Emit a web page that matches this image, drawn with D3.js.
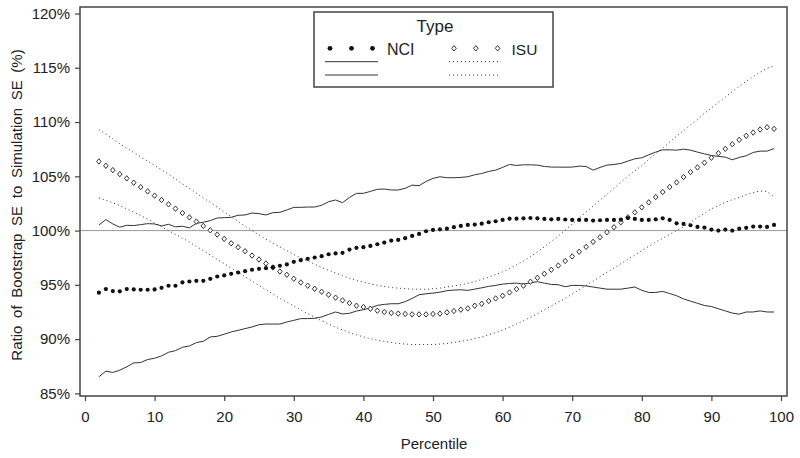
<!DOCTYPE html>
<html><head><meta charset="utf-8">
<script src="https://cdn.jsdelivr.net/npm/d3@7"></script>
<style>
body{margin:0;background:#fff;}
text{font-family:"Liberation Sans",Arial,Helvetica,sans-serif;fill:#222;}
</style></head>
<body><svg id="c" width="800" height="458"></svg>
<script>
// ---------- data ----------
const pct = [2,3,4,5,6,7,8,9,10,11,12,13,14,15,16,17,18,19,20,21,22,23,24,25,26,27,28,29,30,31,32,33,34,35,36,37,38,39,40,41,42,43,44,45,46,47,48,49,50,51,52,53,54,55,56,57,58,59,60,61,62,63,64,65,66,67,68,69,70,71,72,73,74,75,76,77,78,79,80,81,82,83,84,85,86,87,88,89,90,91,92,93,94,95,96,97,98,99];
const nciMean = [94.28,94.61,94.43,94.40,94.61,94.58,94.55,94.55,94.58,94.73,94.92,94.92,95.22,95.31,95.37,95.37,95.56,95.77,95.87,96.02,96.14,96.26,96.39,96.48,96.54,96.63,96.76,96.88,97.12,97.27,97.40,97.52,97.64,97.82,97.90,97.95,98.25,98.41,98.47,98.59,98.74,98.90,99.08,99.14,99.30,99.51,99.69,99.94,100.06,100.12,100.18,100.31,100.43,100.52,100.55,100.64,100.77,100.86,100.98,101.10,101.10,101.13,101.16,101.13,101.07,101.04,101.07,101.02,100.98,100.98,100.98,100.92,100.95,100.98,100.98,101.01,101.16,101.07,100.98,100.98,101.04,101.13,100.98,100.67,100.61,100.49,100.34,100.28,100.09,100.00,100.09,100.00,100.18,100.25,100.37,100.37,100.34,100.52];
const nciUpper = [100.52,101.01,100.61,100.31,100.49,100.46,100.55,100.64,100.61,100.43,100.58,100.34,100.40,100.25,100.67,100.77,100.92,101.16,101.19,101.22,101.41,101.44,101.62,101.56,101.44,101.65,101.68,101.90,102.14,102.14,102.17,102.17,102.33,102.66,102.82,102.57,103.06,103.43,103.43,103.61,103.80,103.83,103.74,103.74,103.89,104.19,104.13,104.53,104.81,104.96,104.87,104.87,104.90,104.96,105.14,105.26,105.45,105.57,105.82,106.09,106.00,106.06,106.06,106.03,105.91,105.85,105.85,105.84,105.85,105.94,105.91,105.57,105.82,106.03,106.09,106.19,106.40,106.61,106.71,106.98,107.23,107.44,107.44,107.41,107.50,107.41,107.23,107.07,106.92,106.83,106.77,106.52,106.74,106.89,107.20,107.32,107.32,107.56];
const nciLower = [86.53,87.05,86.93,87.14,87.45,87.81,87.84,88.12,88.24,88.45,88.79,88.94,89.25,89.37,89.68,89.80,90.20,90.26,90.45,90.66,90.81,90.97,91.12,91.33,91.39,91.39,91.39,91.58,91.73,91.89,91.89,91.92,92.04,92.28,92.50,92.32,92.38,92.59,92.71,92.87,93.11,93.20,93.26,93.26,93.45,93.75,94.09,94.18,94.24,94.33,94.46,94.52,94.55,94.49,94.61,94.73,94.86,94.95,95.07,95.13,95.16,95.07,95.19,95.29,95.16,95.04,95.01,94.83,94.95,94.95,94.90,94.80,94.70,94.60,94.60,94.60,94.70,94.80,94.50,94.30,94.30,94.40,94.20,94.00,93.70,93.50,93.30,93.10,93.00,92.80,92.60,92.40,92.30,92.50,92.50,92.60,92.50,92.50];
const isuMean = [106.37,105.97,105.57,105.20,104.81,104.41,104.01,103.61,103.22,102.82,102.42,102.02,101.62,101.22,100.83,100.43,100.03,99.63,99.24,98.83,98.47,98.10,97.70,97.34,96.97,96.60,96.23,95.93,95.56,95.22,94.92,94.64,94.37,94.09,93.82,93.57,93.32,93.08,92.96,92.80,92.62,92.50,92.41,92.35,92.32,92.28,92.28,92.28,92.32,92.35,92.47,92.59,92.71,92.83,93.08,93.26,93.51,93.75,94.00,94.30,94.61,94.92,95.29,95.65,96.02,96.39,96.78,97.20,97.62,98.05,98.50,98.96,99.39,99.85,100.31,100.77,101.22,101.68,102.14,102.60,103.09,103.55,104.01,104.44,104.93,105.39,105.82,106.25,106.71,107.13,107.53,107.96,108.36,108.73,109.03,109.31,109.52,109.37];
const isuUpper = [109.3,108.9,108.45,108.0,107.6,107.2,106.8,106.4,106.0,105.6,105.2,104.75,104.3,103.9,103.45,103.0,102.6,102.15,101.7,101.3,100.85,100.4,100.0,99.6,99.2,98.85,98.5,98.15,97.8,97.5,97.2,96.9,96.6,96.35,96.1,95.85,95.6,95.4,95.25,95.1,94.95,94.85,94.75,94.7,94.65,94.6,94.6,94.6,94.65,94.7,94.8,94.9,95.0,95.15,95.3,95.5,95.7,95.95,96.2,96.5,96.85,97.2,97.6,98.05,98.5,99.0,99.5,100.05,100.6,101.15,101.7,102.25,102.8,103.35,103.9,104.45,105.0,105.5,106.0,106.55,107.1,107.6,108.15,108.7,109.2,109.75,110.25,110.8,111.3,111.8,112.3,112.8,113.3,113.75,114.2,114.6,114.95,115.15];
const isuLower = [103.0,102.8,102.55,102.3,102.0,101.7,101.4,101.05,100.7,100.35,100.0,99.65,99.3,98.95,98.55,98.15,97.75,97.35,96.95,96.55,96.15,95.75,95.35,94.95,94.55,94.15,93.75,93.4,93.05,92.7,92.35,92.0,91.7,91.4,91.1,90.85,90.6,90.4,90.2,90.05,89.9,89.8,89.7,89.6,89.55,89.5,89.5,89.5,89.5,89.55,89.6,89.7,89.8,89.9,90.05,90.2,90.4,90.6,90.85,91.1,91.4,91.7,92.0,92.35,92.7,93.05,93.4,93.75,94.15,94.55,94.95,95.35,95.75,96.15,96.55,96.95,97.35,97.75,98.15,98.55,98.95,99.3,99.65,100.0,100.35,100.75,101.2,101.6,102.0,102.3,102.6,102.85,103.05,103.3,103.5,103.65,103.6,103.1];
const xTicks = [0,10,20,30,40,50,60,70,80,90,100];
const yTicks = [85,90,95,100,105,110,115,120];
const legendTitle = "Type";
const legendNames = ["NCI","ISU"];
const xTitle = "Percentile";
const yTitle = "Ratio of Bootstrap SE to Simulation SE (%)";

// ---------- layout ----------
const svg = d3.select("#c");
const F = {l:80, t:7, r:787, b:396};
const x = d3.scaleLinear().domain([0,100]).range([85,781]);
const y = d3.scaleLinear().domain([85,120]).range([393.4,13.5]);

// reference line at 100%
svg.append("line").attr("x1",F.l).attr("x2",F.r).attr("y1",y(100)).attr("y2",y(100))
  .attr("stroke","#999").attr("stroke-width",1);

const line = d3.line().x((d,i)=>x(pct[i])).y(d=>y(d));
const solid = {stroke:"#333","stroke-width":1,fill:"none"};
const dotted = {stroke:"#333","stroke-width":1,fill:"none","stroke-dasharray":"1,3"};
function path(data, st){
  const p = svg.append("path").attr("d", line(data));
  Object.entries(st).forEach(([k,v])=>p.attr(k,v));
}
path(nciUpper, solid); path(nciLower, solid);
path(isuUpper, dotted); path(isuLower, dotted);

const diamond = "M0,-2.7L2.3,0L0,2.7L-2.3,0Z";
svg.append("g").selectAll("path").data(isuMean).join("path")
  .attr("d",diamond).attr("transform",(d,i)=>`translate(${x(pct[i])},${y(d)})`)
  .attr("fill","#fff").attr("stroke","#333").attr("stroke-width",1);
svg.append("g").selectAll("circle").data(nciMean).join("circle")
  .attr("cx",(d,i)=>x(pct[i])).attr("cy",d=>y(d)).attr("r",2.1).attr("fill","#111");

// frame
svg.append("rect").attr("x",F.l).attr("y",F.t).attr("width",F.r-F.l).attr("height",F.b-F.t)
  .attr("fill","none").attr("stroke","#444").attr("stroke-width",1.5);

// axes
const ya = svg.append("g").attr("transform",`translate(${F.l},0)`)
  .call(d3.axisLeft(y).tickValues(yTicks).tickSize(5).tickPadding(5).tickFormat(d=>d+"%"));
const xa = svg.append("g").attr("transform",`translate(0,${F.b})`)
  .call(d3.axisBottom(x).tickValues(xTicks).tickSize(5).tickPadding(10));
[ya,xa].forEach(a=>{
  a.select(".domain").remove();
  a.selectAll(".tick line").attr("stroke","#444").attr("stroke-width",1.2);
  a.selectAll("text").attr("font-family","Liberation Sans, Arial, sans-serif").attr("font-size",15).attr("fill","#222");
});

svg.append("text").attr("x",434).attr("y",449).attr("text-anchor","middle")
  .attr("font-size",15).text(xTitle);
svg.append("text").attr("transform","translate(22,205) rotate(-90)").attr("text-anchor","middle")
  .attr("font-size",15).attr("word-spacing","3.5px").text(yTitle);

// legend
const lg = svg.append("g");
lg.append("rect").attr("x",314).attr("y",12).attr("width",239).attr("height",75)
  .attr("fill","#fff").attr("stroke","#444").attr("stroke-width",1.5);
lg.append("text").attr("x",435).attr("y",32).attr("text-anchor","middle").attr("font-size",17).text(legendTitle);
[330,351.5,372.5].forEach(cx=>lg.append("circle").attr("cx",cx).attr("cy",48.3).attr("r",2.4).attr("fill","#111"));
[454,475.8,497.6].forEach(cx=>lg.append("path").attr("d",diamond).attr("transform",`translate(${cx},48.3)`)
  .attr("fill","#fff").attr("stroke","#333").attr("stroke-width",1));
lg.append("text").attr("x",387).attr("y",54.5).attr("font-size",16).text(legendNames[0]);
lg.append("text").attr("x",511.5).attr("y",54.5).attr("font-size",15.5).text(legendNames[1]);
[61.7,75].forEach(yy=>{
  const a = lg.append("line").attr("x1",325).attr("x2",378).attr("y1",yy).attr("y2",yy);
  Object.entries(solid).forEach(([k,v])=>a.attr(k,v));
  const b = lg.append("line").attr("x1",449).attr("x2",501).attr("y1",yy).attr("y2",yy);
  Object.entries(dotted).forEach(([k,v])=>b.attr(k,v));
});
</script></body></html>
